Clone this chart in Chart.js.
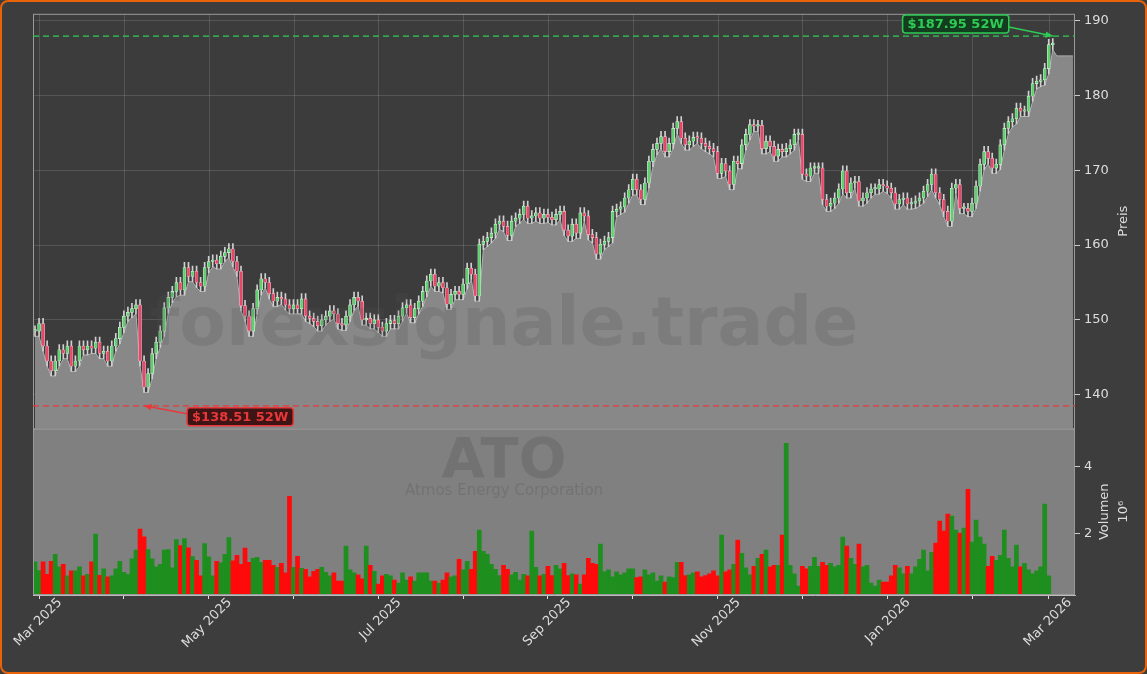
<!DOCTYPE html>
<html>
<head>
<meta charset="utf-8">
<script src="https://cdn.jsdelivr.net/npm/chart.js@4.4.1/dist/chart.umd.min.js"></script>
<style>
  html, body { margin: 0; padding: 0; background: #3d3d3d; }
  #wrap { width: 1147px; height: 674px; box-sizing: border-box; border: 2px solid #e8630a; border-radius: 8px; background: #3d3d3d; overflow: hidden; }
  canvas { display: block; }
</style>
</head>
<body>
<div id="wrap"><canvas id="c" width="1143" height="670"></canvas></div>
<script>
// Schlusskurse (täglich)
const closes = [
  148.5,149.5,146.5,144.5,143.2,144.5,146,145.5,146.5,143.8,144.5,146.5,146,146.5,146.2,147,145.5,145.8,144.5,146.5,
  147.5,149,150.5,151,151.5,152,144.5,141,142.8,145.5,147,148.5,151.6,153,153.8,155,154,157,155.8,156.5,
  155,154.5,157,157.8,158,157.5,158.5,159,159.5,157.8,156.5,151.9,150.5,148.5,151.5,154,155.5,155,153.5,152.5,
  153,152.8,152,151.5,152,151.5,152.8,150.5,150.2,149.8,149.2,150,150.5,151.2,150.8,149.5,149.3,150.5,152,153,
  152.5,150,150.2,149.5,150,149,148.5,149.5,
  149.9,149.5,150.5,151.6,152,150.3,151.5,152.5,153.8,155.2,156.1,154.5,155,154.3,152.1,153.4,153.8,153.4,154.8,156.9,
  156.1,153.2,160.1,160.5,161,161.6,162.8,163.2,162.5,161.3,163.2,163.6,164.1,165.2,163.6,163.9,164.3,163.6,164.1,163.7,
  163.4,164.1,164.5,162,161.2,162.8,161.6,164.3,163.9,161.4,161,158.8,160.1,160.5,161,164.5,164.8,165.1,166.3,167.4,
  168.8,167.4,166.1,168.3,171.2,172.8,173.6,174.5,172.5,173.6,175.6,176.5,174.3,173.4,173.9,174.4,174.3,173.6,173.2,172.9,
  172.5,169.6,170.9,169.9,168.1,171.2,170.9,173.4,174.8,
  176.1,175.9,176,172.9,173.9,173.2,171.9,172.8,172.5,172.9,173.4,174.8,174.8,169.5,169.2,170.3,170.3,170.3,166.1,165.2,
  165.6,166.3,167.5,169.9,167,168.3,168.5,165.9,166.3,167,167.5,167.5,168.1,167.9,167.6,167,165.5,166.1,166.3,165.5,
  165.6,165.9,166.3,167.2,168.1,169.5,167,166.1,164.5,163.2,167.6,168.1,164.9,164.9,164.5,165.6,167.9,170.8,172.5,171.6,
  170.3,170.8,173.4,175.6,176.5,176.9,178.3,177.9,177.9,179.9,181.6,181.9,182.1,183.6,186.8,186.9
];
// Fläche rechts nach dem letzten Kerzenwert
const areaTail = [185.3, 185.3, 185.3, 185.3, 185.3];

// Volumen in Mio. Stück
const volumes = [
  1.14,0.88,1.14,0.77,1.16,1.37,0.99,1.07,0.72,0.87,0.87,0.99,0.72,0.77,1.14,1.97,0.74,0.93,0.69,0.72,
  0.93,1.16,0.83,0.77,1.23,1.49,2.12,1.89,1.51,1.23,0.99,1.07,1.49,1.51,0.96,1.81,1.63,1.84,1.56,1.30,
  1.19,0.72,1.69,1.29,0.72,1.16,1.11,1.37,1.87,1.17,1.34,1.07,1.55,1.13,1.25,1.28,1.13,1.19,1.19,1.04,
  0.98,1.10,0.81,3.10,0.98,1.31,0.95,0.92,0.69,0.86,0.92,0.98,0.83,0.72,0.81,0.57,0.57,1.61,0.90,0.81,
  0.75,0.63,1.61,1.04,0.86,0.48,0.72,0.77,0.72,0.60,0.51,0.81,0.60,0.69,0.57,0.81,0.81,0.81,0.57,0.57,
  0.51,0.60,0.81,0.69,0.72,1.22,0.90,1.16,0.92,1.46,2.09,1.46,1.37,1.07,0.92,0.73,1.04,0.92,0.75,0.83,
  0.60,0.77,0.72,2.06,0.98,0.72,0.77,1.01,
  0.73,1.04,0.93,1.10,0.73,0.78,0.75,0.48,0.75,1.25,1.10,1.07,1.67,0.84,0.90,0.69,0.84,0.75,0.81,0.93,
  0.93,0.67,0.69,0.90,0.75,0.81,0.57,0.72,0.54,0.69,0.67,1.13,1.13,0.73,0.75,0.81,0.84,0.69,0.73,0.78,
  0.87,0.72,1.94,0.84,0.90,1.07,1.79,1.40,0.96,0.75,1.01,1.25,1.37,1.49,0.99,1.04,1.04,1.94,4.69,1.04,
  0.78,0.42,1.01,0.93,1.01,1.28,1.01,1.13,1.04,1.10,0.99,1.04,1.88,1.61,1.25,1.07,1.67,0.99,1.04,0.51,
  0.42,0.60,0.54,0.54,0.72,1.04,0.96,0.78,1.01,0.78,0.99,1.22,1.49,0.87,1.43,1.70,2.36,2.06,2.57,2.51,
  2.09,2.00,2.15,3.31,1.73,2.39,1.88,1.67,1.01,1.31,1.19,1.34,2.09,1.25,0.99,1.64,0.99,1.10,0.90,0.78,
  0.87,0.99,2.87,0.72
];

// Monatsmarken auf der Zeitachse (Index des ersten Handelstags)
const monthIdx   = [1, 22, 43, 64, 85, 106, 127, 148, 169, 190, 211, 232, 251];
const monthNames = ['Mar 2025', '', 'May 2025', '', 'Jul 2025', '', 'Sep 2025', '', 'Nov 2025', '', 'Jan 2026', '', 'Mar 2026'];
const yTicks  = [140, 150, 160, 170, 180, 190];
const vTicks  = [2, 4];
const high52 = 187.95, low52 = 138.51;

const N = closes.length + areaTail.length;
const labels = Array.from({ length: N }, (_, i) => String(i));
const opens = closes.map((c, i) => i === 0 ? c : closes[i - 1]);
const bodies = closes.map((c, i) => [opens[i], c]);
const wicks = closes.map((c, i) => [Math.min(opens[i], c) - 0.7, Math.max(opens[i], c) + 0.7]);
const area = closes.map((c, i) => Math.min(opens[i], c) - 0.7).concat(areaTail);
const up = closes.map((c, i) => c >= opens[i]);
const volUp = volumes.map((v, i) => up[i] !== false);

const FONT = 'DejaVu Sans';

const bgPlugin = {
  id: 'panels',
  beforeDraw(chart) {
    const { ctx, chartArea, scales } = chart;
    const py = scales.y, vy = scales.yv;
    ctx.save();
    ctx.fillStyle = '#3c3c3c';
    ctx.fillRect(chartArea.left, py.top, chartArea.width, py.bottom - py.top);
    ctx.fillStyle = '#808080';
    ctx.fillRect(chartArea.left, vy.top, chartArea.width, vy.bottom - vy.top);
    ctx.restore();
  },
  beforeDatasetsDraw(chart) {
    const { ctx, scales } = chart;
    const py = scales.y, x = scales.x;
    ctx.save();
    ctx.strokeStyle = 'rgba(255,255,255,0.13)';
    ctx.lineWidth = 1;
    monthIdx.forEach(i => {
      const px = Math.round(x.getPixelForValue(i)) + 0.5;
      ctx.beginPath(); ctx.moveTo(px, py.top); ctx.lineTo(px, py.bottom); ctx.stroke();
    });
    ctx.restore();
  },
  afterDatasetsDraw(chart) {
    const { ctx, chartArea } = chart;
    const cx = (chartArea.left + chartArea.right) / 2;
    ctx.save();
    ctx.textAlign = 'center'; ctx.textBaseline = 'middle';
    ctx.fillStyle = 'rgba(80,80,80,0.2)';
    ctx.font = `bold 68px "${FONT}"`;
    ctx.fillText('forexsignale.trade', cx - 50, 325);
    ctx.fillStyle = 'rgba(80,80,80,0.28)';
    ctx.font = `bold 56px "${FONT}"`;
    ctx.fillText('ATO', cx - 50, 460);
    ctx.font = `15px "${FONT}"`;
    ctx.fillText('Atmos Energy Corporation', cx - 50, 489);
    ctx.restore();
  },
  afterDraw(chart) {
    const { ctx, chartArea, scales } = chart;
    const py = scales.y, vy = scales.yv, x = scales.x;
    ctx.save();
    ctx.strokeStyle = '#9a9a9a';
    ctx.lineWidth = 1;
    ctx.strokeRect(chartArea.left + 0.5, py.top + 0.5, chartArea.width - 1, py.bottom - py.top);
    ctx.strokeRect(chartArea.left + 0.5, vy.top + 0.5, chartArea.width - 1, vy.bottom - vy.top - 1);

    // Achsentitel (von unten nach oben gelesen)
    ctx.fillStyle = '#dddddd';
    ctx.font = `13px "${FONT}"`;
    ctx.textAlign = 'center'; ctx.textBaseline = 'middle';
    const axTitle = (t, px, pyy) => {
      ctx.save(); ctx.translate(px, pyy); ctx.rotate(-Math.PI / 2); ctx.fillText(t, 0, 0); ctx.restore();
    };
    axTitle('Preis', 1122, (py.top + py.bottom) / 2);
    axTitle('Volumen', 1103, (vy.top + vy.bottom) / 2);
    axTitle('10⁶', 1122, (vy.top + vy.bottom) / 2);

    const marks = [
      { v: high52, color: '#2ecc55', fill: '#143c1e', idx: closes.indexOf(Math.max(...closes)), side: -1 },
      { v: low52, color: '#e8383a', fill: '#3e1414', idx: closes.indexOf(Math.min(...closes)), side: 1 }
    ];
    marks.forEach(m => {
      const yy = py.getPixelForValue(m.v);
      ctx.setLineDash([6, 4]);
      ctx.strokeStyle = m.color; ctx.lineWidth = 1.3;
      ctx.beginPath(); ctx.moveTo(chartArea.left, yy); ctx.lineTo(chartArea.right, yy); ctx.stroke();
      ctx.setLineDash([]);
      const tx = x.getPixelForValue(m.idx);
      const text = '$' + m.v.toFixed(2) + ' 52W';
      ctx.font = `bold 13px "${FONT}"`;
      const w = ctx.measureText(text).width + 10, h = 18;
      const bx = m.side < 0 ? tx - 44 - w : tx + 43;
      const by = m.side < 0 ? yy - 21 : yy + 2;
      ctx.fillStyle = m.fill; ctx.strokeStyle = m.color; ctx.lineWidth = 1.5;
      ctx.beginPath(); ctx.roundRect(bx, by, w, h, 3); ctx.fill(); ctx.stroke();
      ctx.fillStyle = m.color; ctx.textAlign = 'left'; ctx.textBaseline = 'middle';
      ctx.fillText(text, bx + 5, by + h / 2 + 1);
      const sx = m.side < 0 ? bx + w : bx, sy = by + h / 2 + (m.side < 0 ? 3 : -3);
      const ang = Math.atan2(yy - sy, tx - sx);
      ctx.beginPath(); ctx.moveTo(sx, sy); ctx.lineTo(tx, yy); ctx.stroke();
      ctx.beginPath();
      ctx.moveTo(tx, yy);
      ctx.lineTo(tx - 8 * Math.cos(ang - 0.4), yy - 8 * Math.sin(ang - 0.4));
      ctx.lineTo(tx - 8 * Math.cos(ang + 0.4), yy - 8 * Math.sin(ang + 0.4));
      ctx.closePath(); ctx.fill();
    });
    ctx.restore();
  }
};

new Chart(document.getElementById('c'), {
  data: {
    labels: labels,
    datasets: [
      {
        type: 'line', data: area, yAxisID: 'y', order: 3,
        borderColor: '#b0b0b0', borderWidth: 1, backgroundColor: '#888888',
        fill: 'start', pointRadius: 0, tension: 0
      },
      {
        type: 'bar', data: wicks, yAxisID: 'y', order: 2, grouped: false,
        barThickness: 1, backgroundColor: '#d0d0d0'
      },
      {
        type: 'bar', data: bodies, yAxisID: 'y', order: 1, grouped: false,
        barThickness: 3, minBarLength: 1.5,
        backgroundColor: up.map(u => u ? '#5fcf6f' : '#e8476a'),
        borderColor: up.map(u => u ? '#d8f5dc' : '#f6b8c6'), borderWidth: 0.6, borderSkipped: false
      },
      {
        type: 'bar', data: volumes, yAxisID: 'yv', order: 1, grouped: false,
        barPercentage: 1, categoryPercentage: 1,
        backgroundColor: volUp.map(u => u ? '#1e8f1e' : '#ff0a0a')
      }
    ]
  },
  options: {
    responsive: false,
    animation: false,
    layout: { padding: { left: 31, top: 10, right: 0, bottom: 0 } },
    plugins: { legend: { display: false }, tooltip: { enabled: false } },
    scales: {
      x: {
        type: 'category', offset: true,
        grid: { display: true, drawOnChartArea: false, offset: false, tickColor: '#dddddd', tickLength: 4 },
        border: { color: '#bbbbbb' },
        afterBuildTicks: s => { s.ticks = monthIdx.map(v => ({ value: v })); },
        afterFit: s => { s.height = 77; s.paddingLeft = 0; s.paddingRight = 0; },
        ticks: {
          autoSkip: false, maxRotation: 45, minRotation: 45, color: '#dddddd',
          font: { family: FONT, size: 13 }, labelOffset: 21, padding: -4,
          callback: (v) => monthNames[monthIdx.indexOf(v)]
        }
      },
      y: {
        position: 'right', stack: 'p', stackWeight: 416, offset: false,
        min: 135.47, max: 190.93,
        afterBuildTicks: s => { s.ticks = yTicks.map(v => ({ value: v })); },
        afterFit: s => { s.width = 70; },
        grid: { color: 'rgba(255,255,255,0.13)', drawTicks: true, tickColor: '#cccccc', tickLength: 5 },
        border: { display: false },
        ticks: { color: '#dddddd', font: { family: FONT, size: 13 }, padding: 4 }
      },
      yv: {
        position: 'right', stack: 'p', stackWeight: 167, offset: false,
        min: 0.15, max: 5.13,
        afterBuildTicks: s => { s.ticks = vTicks.map(v => ({ value: v })); },
        afterFit: s => { s.width = 70; },
        grid: { display: true, drawOnChartArea: false, tickColor: '#cccccc', tickLength: 5 },
        border: { display: false },
        ticks: { color: '#dddddd', font: { family: FONT, size: 13 }, padding: 4 }
      }
    }
  },
  plugins: [bgPlugin]
});
</script>
</body>
</html>
